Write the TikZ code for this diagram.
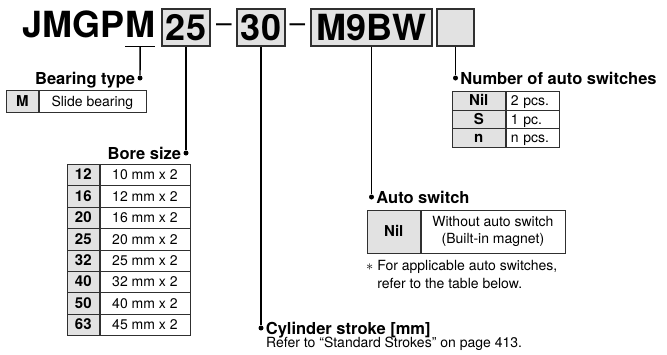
\documentclass[tikz,border=0pt]{standalone}
\usepackage{fontspec}
\setmainfont{TeX Gyre Heros}
\usetikzlibrary{positioning}

\definecolor{keygray}{HTML}{E2E2E2}
\definecolor{rulegray}{HTML}{303030}

\tikzset{
  codebox/.style={draw=rulegray, line width=1.1pt, fill=keygray, font=\fontsize{36}{36}\bfseries,
    text height=26pt, text depth=0pt, minimum height=37pt, inner xsep=1pt},
  codetext/.style={font=\fontsize{36}{36}\bfseries, inner sep=0pt},
  codedash/.style={font=\fontsize{28}{28}\selectfont, inner sep=0pt, anchor=base},
  pindot/.style={circle, fill=black, inner sep=0pt, minimum size=5pt},
  lead/.style={line width=1.4pt},
  hdr/.style={font=\fontsize{16.5}{18}\bfseries, text height=12pt, text depth=0pt, inner sep=0pt},
  capline/.style={text height=10pt, text depth=0pt},
  keycell/.style={draw=rulegray, line width=0.6pt, fill=keygray, font=\fontsize{15}{16}\bfseries,
    inner sep=0pt, anchor=north west},
  valcell/.style={draw=rulegray, line width=0.6pt, font=\fontsize{14}{16}\selectfont,
    inner sep=0pt, anchor=north west},
  plain/.style={font=\fontsize{14}{18}\selectfont, inner sep=0pt}
}

\begin{document}
\begin{tikzpicture}[x=1pt,y=-1pt]
    \useasboundingbox (0,0) rectangle (667,354);

    % model code
    \node[codetext, anchor=base east] (series) at (125,37) {JMGP};
    \node[codetext, anchor=base west, text height=26pt, text depth=9pt] (mount) at (series.base east) {M};
    \draw[line width=0.9pt] (mount.south west) -- (mount.south east);
    \node[codebox, minimum width=48pt] (bore) at (186,27.5) {25};
    \node[codedash] (dashA) at (224,32.5) {–};
    \node[codebox, minimum width=48pt] (stroke) at (261,27.5) {30};
    \node[codedash] (dashB) at (297.5,32.5) {–};
    \node[codebox, minimum width=121pt] (sw) at (371.5,27.5) {M9BW};
    \node[codebox, minimum width=37pt] (swnum) at (455.5,27.5) {};

    % leaders
    \node[pindot] (dotmount) at (140,78) {};
    \node[pindot] (dotbore) at (186,153) {};
    \node[pindot] (dotstroke) at (261,328) {};
    \node[pindot] (dotsw) at (371.5,197) {};
    \node[pindot] (dotswnum) at (455.5,78) {};
    \draw[lead] (mount.south) -- (dotmount);
    \draw[lead] (bore.south) -- (dotbore);
    \draw[lead] (stroke.south) -- (dotstroke);
    \draw[lead] (sw.south) -- (dotsw);
    \draw[lead] (swnum.south) -- (dotswnum);

    % Bearing type
    \node[hdr, left=2pt of dotmount] (bearhdr) {Bearing type};
    \node[keycell, capline, minimum width=32pt, minimum height=22pt] (bearkey) at (6,90) {M};
    \node[valcell, capline, minimum width=107pt, minimum height=22pt] (bearval) at (bearkey.north east) {Slide bearing};

    % Bore size
    \node[hdr, left=2pt of dotbore] (borehdr) {Bore size};
    \foreach \key/\val [count=\i] in {12/10,16/12,20/16,25/20,32/25,40/32,50/40,63/45} {
        \node[keycell, capline, minimum width=32pt, minimum height=21.375pt] (borekey\i) at (67,{164+21.375*(\i-1)}) {\key};
        \node[valcell, capline, minimum width=90pt, minimum height=21.375pt] (boreval\i) at (borekey\i.north east) {\val\ mm x 2};
    }

    % Number of auto switches
    \node[hdr, right=2pt of dotswnum] (swnumhdr) {Number of auto switches};
    \foreach \key/\val [count=\i] in {Nil/2 pcs.,S/1 pc.,n/n pcs.} {
        \node[keycell, capline, minimum width=53pt, minimum height=18.67pt] (swnumkey\i) at (452,{91+18.67*(\i-1)}) {\key};
        \node[valcell, capline, minimum height=18.67pt, text width=43pt, inner xsep=5pt] (swnumval\i) at (swnumkey\i.north east) {\val};
    }

    % Auto switch
    \node[hdr, right=2pt of dotsw] (swhdr) {Auto switch};
    \node[keycell, capline, minimum width=53pt, minimum height=43pt] (swkey) at (367,210) {Nil};
    \node[valcell, minimum width=144pt, minimum height=43pt, align=center, font=\fontsize{14}{17}\selectfont] (swval) at (swkey.north east) {Without auto switch\\(Built-in magnet)};
    \node[plain, anchor=north west, align=left] (swnote) at (366,260) {$\ast$ For applicable auto switches,\\\phantom{$\ast$ }refer to the table below.};

    % Cylinder stroke
    \node[hdr, right=2pt of dotstroke] (strokehdr) {Cylinder stroke [mm]};
    \node[plain, anchor=base west] (strokenote) at (266,347) {Refer to “Standard Strokes” on page 413.};
\end{tikzpicture}
\end{document}
